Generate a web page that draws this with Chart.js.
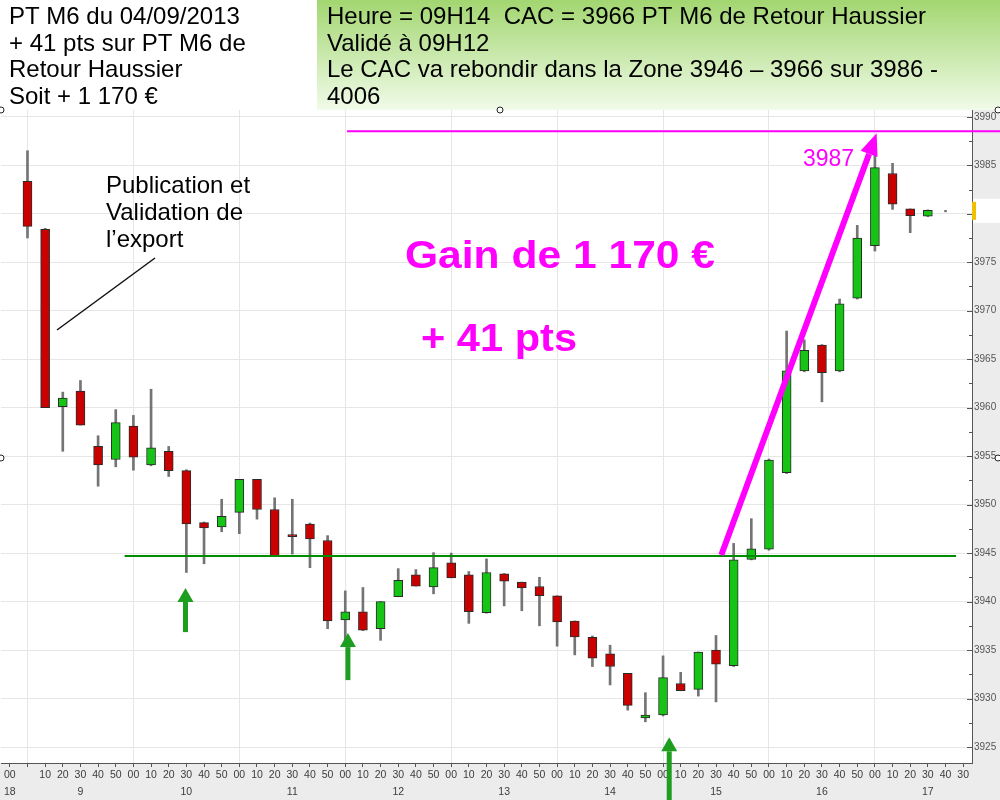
<!DOCTYPE html>
<html>
<head>
<meta charset="utf-8">
<script src="https://cdn.jsdelivr.net/npm/chart.js@4.4.0/dist/chart.umd.min.js"></script>
<style>
  html, body { margin: 0; padding: 0; background: #fff; }
</style>
</head>
<body>
<canvas id="candles" width="1000" height="800"></canvas>
<script>
// 10 minute slots : veille 18h, puis 9h00 ... 17h40 + un slot vide
const minuteLabels = [
  "00", "", "10", "20", "30", "40", "50",
  "00", "10", "20", "30", "40", "50",
  "00", "10", "20", "30", "40", "50",
  "00", "10", "20", "30", "40", "50",
  "00", "10", "20", "30", "40", "50",
  "00", "10", "20", "30", "40", "50",
  "00", "10", "20", "30", "40", "50",
  "00", "10", "20", "30", "40", "50",
  "00", "10", "20", "30", "40", "30"
];
const hourLabels = [
  "18", "", "", "", "9", "", "",
  "", "", "", "10", "", "",
  "", "", "", "11", "", "",
  "", "", "", "12", "", "",
  "", "", "", "13", "", "",
  "", "", "", "14", "", "",
  "", "", "", "15", "", "",
  "", "", "", "16", "", "",
  "", "", "", "17", "", ""
];

const opens = [
  null, 3983.35, 3978.4, 3960.1, 3961.7, 3956.0, 3954.65,
  3958.1, 3954.1, 3955.5, 3953.5, 3948.15, 3947.7,
  3949.2, 3952.6, 3949.5, 3946.9, 3948.0, 3946.3,
  3938.1, 3938.95, 3937.2, 3940.5, 3942.75, 3941.5,
  3944.0, 3942.75, 3938.85, 3942.85, 3942.0, 3941.55,
  3940.6, 3938.0, 3936.3, 3934.6, 3932.6, 3928.0,
  3928.3, 3931.55, 3930.95, 3935.0, 3933.4, 3944.35,
  3945.4, 3953.3, 3963.8, 3966.45, 3963.8, 3971.3,
  3976.7, 3984.15, 3980.5, 3979.75, null, null
];
const highs = [
  null, 3986.5, 3978.5, 3961.6, 3962.8, 3957.1, 3959.8,
  3959.2, 3961.9, 3956.0, 3953.6, 3948.2, 3950.55,
  3952.6, 3952.6, 3950.7, 3950.55, 3948.1, 3946.8,
  3941.1, 3941.45, 3940.0, 3943.4, 3943.3, 3945.05,
  3945.0, 3943.1, 3944.4, 3942.9, 3942.0, 3942.5,
  3940.6, 3938.0, 3936.45, 3935.5, 3932.6, 3930.6,
  3934.4, 3932.7, 3934.8, 3936.5, 3946.0, 3948.55,
  3954.7, 3967.9, 3967.0, 3966.5, 3971.2, 3978.8,
  3986.5, 3985.2, 3980.5, 3980.4, 3980.35, null
];
const lows = [
  null, 3977.5, 3960.0, 3955.5, 3958.2, 3951.9, 3953.9,
  3953.55, 3954.0, 3952.9, 3943.0, 3943.9, 3947.2,
  3947.0, 3948.5, 3944.7, 3944.9, 3943.5, 3937.2,
  3935.6, 3937.0, 3936.0, 3940.5, 3941.6, 3940.8,
  3942.45, 3937.75, 3938.8, 3939.55, 3939.05, 3937.5,
  3935.4, 3934.5, 3933.3, 3931.4, 3928.8, 3927.6,
  3928.2, 3930.8, 3930.25, 3929.65, 3933.3, 3944.3,
  3945.3, 3953.2, 3963.7, 3960.6, 3963.7, 3971.2,
  3976.15, 3980.45, 3978.05, 3979.7, 3980.2, null
];
const closes = [
  null, 3978.7, 3960.0, 3961.0, 3958.2, 3954.1, 3958.45,
  3954.9, 3955.85, 3953.5, 3948.0, 3947.6, 3948.8,
  3952.6, 3949.5, 3944.7, 3946.7, 3946.45, 3938.0,
  3938.95, 3937.05, 3940.0, 3942.2, 3941.6, 3943.5,
  3942.45, 3938.95, 3943.0, 3942.1, 3941.4, 3940.6,
  3937.9, 3936.35, 3934.15, 3933.3, 3929.3, 3928.3,
  3932.15, 3930.8, 3934.8, 3933.55, 3944.3, 3945.45,
  3954.6, 3963.8, 3965.9, 3963.6, 3970.7, 3977.5,
  3984.75, 3981.0, 3979.8, 3980.35, null, null
];

const yTicks = [3925, 3930, 3935, 3940, 3945, 3950, 3955, 3960, 3965, 3970, 3975, 3980, 3985, 3990];
const yMinorTicks = [3925, 3927.5, 3930, 3932.5, 3935, 3937.5, 3940, 3942.5, 3945, 3947.5, 3950,
  3952.5, 3955, 3957.5, 3960, 3962.5, 3965, 3967.5, 3970, 3972.5, 3975, 3977.5, 3980, 3982.5,
  3985, 3987.5, 3990];
const hourGridSlots = [1, 7, 13, 19, 25, 31, 37, 43, 49];

const lastPrice = 3980.3;
const supportLevel = 3944.7;
const targetLevel = 3988.5;

const FONT = '"Liberation Sans", Arial, sans-serif';
const UP = '#16c416';
const DOWN = '#c80000';

function arrow(ctx, x1, y1, x2, y2, w, headLen, headHalf, color) {
  const ang = Math.atan2(y2 - y1, x2 - x1);
  const bx = x2 - Math.cos(ang) * headLen;
  const by = y2 - Math.sin(ang) * headLen;
  ctx.strokeStyle = color;
  ctx.fillStyle = color;
  ctx.lineWidth = w;
  ctx.lineCap = 'butt';
  ctx.beginPath();
  ctx.moveTo(x1, y1);
  ctx.lineTo(bx, by);
  ctx.stroke();
  ctx.beginPath();
  ctx.moveTo(x2, y2);
  ctx.lineTo(bx + Math.sin(ang) * headHalf, by - Math.cos(ang) * headHalf);
  ctx.lineTo(bx - Math.sin(ang) * headHalf, by + Math.cos(ang) * headHalf);
  ctx.closePath();
  ctx.fill();
}

function fitText(ctx, text, x, y, width) {
  const m = ctx.measureText(text).width;
  ctx.save();
  ctx.translate(x, y);
  ctx.scale(width / m, 1);
  ctx.fillText(text, 0, 0);
  ctx.restore();
}

const overlay = {
  id: 'overlay',
  beforeDraw(chart) {
    const { ctx, chartArea: a } = chart;
    ctx.save();
    ctx.fillStyle = '#ececec';
    ctx.fillRect(0, 0, chart.width, chart.height);
    ctx.fillStyle = '#ffffff';
    ctx.fillRect(0, a.top, a.right, a.bottom - a.top);
    ctx.restore();
  },
  afterDraw(chart) {
    const { ctx, chartArea: a, scales: { x, y } } = chart;
    const px = v => x.getPixelForValue(v);
    const py = v => y.getPixelForValue(v);
    ctx.save();

    // petites graduations du cote interieur de l'axe des prix
    ctx.strokeStyle = '#555';
    ctx.lineWidth = 1;
    yMinorTicks.forEach(v => {
      const t = Math.round(py(v)) + 0.5;
      const len = v % 5 === 0 ? 5 : 3;
      ctx.beginPath();
      ctx.moveTo(a.right - len, t);
      ctx.lineTo(a.right, t);
      ctx.stroke();
    });

    // dernier cours
    const lp = py(lastPrice);
    ctx.fillStyle = '#ffffff';
    ctx.fillRect(a.right + 1, lp - 12, chart.width - a.right, 24);
    ctx.fillStyle = '#f0c000';
    ctx.fillRect(a.right, lp - 9, 4, 18);

    // support vert
    ctx.strokeStyle = '#008c00';
    ctx.lineWidth = 2;
    ctx.beginPath();
    ctx.moveTo(px(6.5), py(supportLevel));
    ctx.lineTo(px(53.6), py(supportLevel));
    ctx.stroke();

    // objectif magenta
    ctx.strokeStyle = '#ff00ff';
    ctx.beginPath();
    ctx.moveTo(px(19.1), py(targetLevel));
    ctx.lineTo(chart.width, py(targetLevel));
    ctx.stroke();

    arrow(ctx, px(40.3), py(3944.8), px(49.1), py(3988.3), 6, 22, 9, '#ff00ff');

    // fleches vertes
    arrow(ctx, px(9.95), py(3936.85), px(9.95), py(3941.4), 5, 14, 8, '#1e9e1e');
    arrow(ctx, px(19.15), py(3931.9), px(19.15), py(3936.75), 5, 14, 8, '#1e9e1e');
    arrow(ctx, px(37.35), chart.height, px(37.35), py(3926.0), 5, 14, 8, '#1e9e1e');

    // textes
    ctx.fillStyle = '#ff00ff';
    ctx.textBaseline = 'alphabetic';
    ctx.font = '23px ' + FONT;
    ctx.fillText('3987', 803, 166);
    ctx.font = 'bold 38px ' + FONT;
    fitText(ctx, 'Gain de 1 170 €', 405, 268, 310);
    fitText(ctx, '+ 41 pts', 421, 351, 156);

    ctx.fillStyle = '#000';
    ctx.font = '24px ' + FONT;
    ctx.fillText('Publication et', 106, 193);
    ctx.fillText('Validation de', 106, 220);
    ctx.fillText('l’export', 106, 247);
    ctx.strokeStyle = '#111';
    ctx.lineWidth = 1.5;
    ctx.beginPath();
    ctx.moveTo(57, 330);
    ctx.lineTo(155, 258);
    ctx.stroke();

    // entete
    ctx.fillStyle = '#ffffff';
    ctx.fillRect(0, 0, 317, a.top);
    const g = ctx.createLinearGradient(0, 0, 0, a.top);
    g.addColorStop(0, '#a2d670');
    g.addColorStop(1, '#f1fbe9');
    ctx.fillStyle = g;
    ctx.fillRect(317, 0, chart.width - 317, a.top);

    ctx.fillStyle = '#000';
    ctx.font = '24px ' + FONT;
    const left = ['PT M6 du 04/09/2013', '+ 41 pts sur PT M6 de', 'Retour Haussier', 'Soit + 1 170 €'];
    const right = ['Heure = 09H14  CAC = 3966 PT M6 de Retour Haussier', 'Validé à 09H12',
      'Le CAC va rebondir dans la Zone 3946 – 3966 sur 3986 -', '4006'];
    left.forEach((t, i) => ctx.fillText(t, 9, 24 + i * 26.5));
    right.forEach((t, i) => ctx.fillText(t, 327, 24 + i * 26.5));

    // poignees de selection
    ctx.strokeStyle = '#222';
    ctx.fillStyle = '#fff';
    ctx.lineWidth = 1;
    [[1, 110], [500, 110], [998, 110], [1, 458], [998, 458]].forEach(([cx, cy]) => {
      ctx.beginPath();
      ctx.arc(cx, cy, 3, 0, Math.PI * 2);
      ctx.fill();
      ctx.stroke();
    });
    ctx.restore();
  }
};

const ctx = document.getElementById('candles').getContext('2d');
new Chart(ctx, {
  type: 'bar',
  data: {
    labels: minuteLabels,
    datasets: [
      {
        label: 'Corps',
        data: opens.map((o, i) => (o === null ? null : [o, closes[i]])),
        backgroundColor: opens.map((o, i) => (o !== null && closes[i] >= o ? UP : DOWN)),
        borderColor: '#2a2a2a',
        borderWidth: 1,
        borderSkipped: false,
        barThickness: 9,
        grouped: false,
        order: 0
      },
      {
        label: 'Meches',
        data: highs.map((h, i) => (h === null ? null : [lows[i], h])),
        backgroundColor: '#747474',
        barThickness: 2,
        grouped: false,
        order: 1
      }
    ]
  },
  options: {
    responsive: false,
    animation: false,
    layout: { padding: { top: 110, left: 1, right: 0, bottom: 0 } },
    plugins: {
      legend: { display: false },
      tooltip: { enabled: false }
    },
    scales: {
      x: {
        offset: true,
        afterFit: s => { s.height = 37; },
        border: { color: '#555' },
        grid: {
          offset: false,
          color: c => (hourGridSlots.includes(c.index) ? '#e6e6e6' : 'rgba(0,0,0,0)'),
          tickColor: '#555',
          tickLength: 4
        },
        ticks: {
          autoSkip: false,
          maxRotation: 0,
          padding: 0,
          color: '#3c3c3c',
          font: { family: FONT, size: 10.5, lineHeight: 1.6 },
          callback: (v, i) => (hourLabels[i] ? [minuteLabels[i], hourLabels[i]] : minuteLabels[i])
        }
      },
      y: {
        position: 'right',
        min: 3923.35,
        max: 3990.7,
        afterFit: s => { s.width = 28; },
        afterBuildTicks: s => { s.ticks = yTicks.map(v => ({ value: v })); },
        border: { color: '#555' },
        grid: { color: '#e6e6e6', drawTicks: false },
        ticks: {
          padding: 2,
          color: '#555',
          font: { family: FONT, size: 10 },
          callback: v => String(v)
        }
      }
    }
  },
  plugins: [overlay]
});
</script>
</body>
</html>
